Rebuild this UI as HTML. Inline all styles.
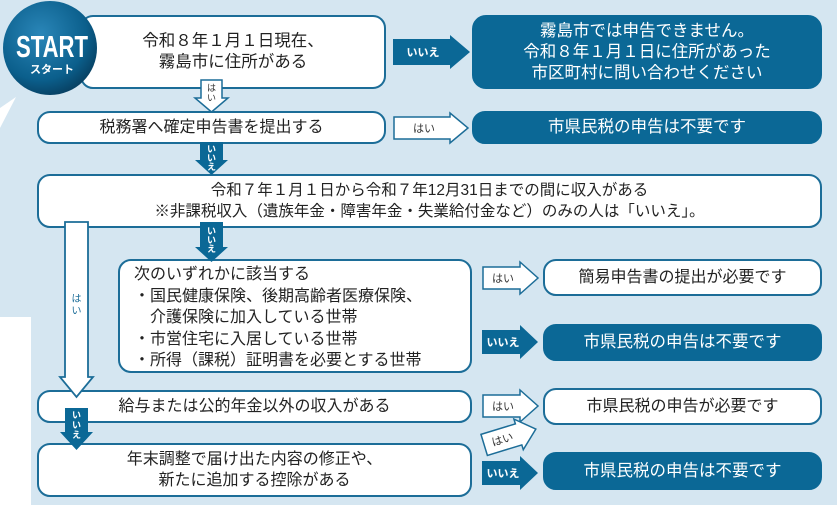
<!DOCTYPE html>
<html><head><meta charset="utf-8"><style>
body{margin:0;width:837px;height:505px;overflow:hidden;background:#d5e6f1;font-family:"Liberation Sans","Noto Sans CJK JP",sans-serif;position:relative}
.b{position:absolute;box-sizing:border-box;border:2.5px solid #1c6d98;background:#fff;border-radius:13px;color:#222;font-size:16px;display:flex;align-items:center;justify-content:center;text-align:center;line-height:21px}
.d{background:#0b6896;border-color:#0b6896;color:#fff;font-size:16.5px}
svg{position:absolute;left:0;top:0}
</style></head><body>
<div style="position:absolute;left:0;top:317px;width:31px;height:188px;background:#fff"></div>
<svg width="837" height="505">
<defs><radialGradient id="g" cx="40%" cy="35%" r="70%"><stop offset="0" stop-color="#2a86b8"/><stop offset="0.7" stop-color="#0b5f8c"/><stop offset="1" stop-color="#073d5e"/></radialGradient></defs>
<polygon points="0,128 16,97 0,108" fill="#fff"/>
</svg>
<div class="b" style="left:80px;top:15px;width:306px;height:74px;font-size:16.5px">令和８年１月１日現在、<br>霧島市に住所がある</div>
<div class="b d" style="left:472px;top:15px;width:350px;height:74px;border-radius:14px">霧島市では申告できません。<br>令和８年１月１日に住所があった<br>市区町村に問い合わせください</div>
<div class="b" style="left:37px;top:111px;width:349px;height:33px">税務署へ確定申告書を提出する</div>
<div class="b d" style="left:472px;top:111px;width:350px;height:33px">市県民税の申告は不要です</div>
<div class="b" style="left:37px;top:174px;width:785px;height:54px;font-size:15.5px">令和７年１月１日から令和７年12月31日までの間に収入がある<br>※非課税収入（遺族年金・障害年金・失業給付金など）のみの人は「いいえ」。</div>
<div class="b" style="left:118px;top:259px;width:354px;height:114px;justify-content:flex-start;text-align:left;padding-left:14px;padding-top:4px;line-height:21.5px">次のいずれかに該当する<br>・国民健康保険、後期高齢者医療保険、<br>　介護保険に加入している世帯<br>・市営住宅に入居している世帯<br>・所得（課税）証明書を必要とする世帯</div>
<div class="b" style="left:543px;top:259px;width:279px;height:37px">簡易申告書の提出が必要です</div>
<div class="b d" style="left:543px;top:324px;width:279px;height:37px">市県民税の申告は不要です</div>
<div class="b" style="left:37px;top:390px;width:435px;height:33px">給与または公的年金以外の収入がある</div>
<div class="b" style="left:543px;top:388px;width:279px;height:37px">市県民税の申告が必要です</div>
<div class="b" style="left:37px;top:443px;width:435px;height:54px">年末調整で届け出た内容の修正や、<br>新たに追加する控除がある</div>
<div class="b d" style="left:543px;top:452px;width:279px;height:38px">市県民税の申告は不要です</div>
<svg width="837" height="505" style="font-family:'Liberation Sans','Noto Sans CJK JP',sans-serif">
<circle cx="50" cy="48" r="47" fill="url(#g)"/>
<text x="52" y="57" fill="#fff" font-size="31" font-weight="bold" text-anchor="middle" textLength="72" lengthAdjust="spacingAndGlyphs">START</text>
<text x="52" y="73" fill="#fff" font-size="11" font-weight="bold" text-anchor="middle">スタート</text>
<polygon points="393,39 450,39 450,35 470,52 450,69 450,65 393,65" fill="#0b6896"/>
<text x="423" y="56" fill="#fff" font-size="11" font-weight="bold" text-anchor="middle">いいえ</text>
<polygon points="394,117 450,117 450,113 468,128 450,143 450,139 394,139" fill="#fff" stroke="#1c6d98" stroke-width="1.5"/>
<text x="424" y="132" fill="#333" font-size="11" text-anchor="middle">はい</text>
<polygon points="483,267 520,267 520,262 538,278 520,294 520,289 483,289" fill="#fff" stroke="#1c6d98" stroke-width="1.5"/>
<text x="503" y="282" fill="#333" font-size="11" text-anchor="middle">はい</text>
<polygon points="482,330 520,330 520,325 538,342 520,359 520,354 482,354" fill="#0b6896"/>
<text x="503" y="346" fill="#fff" font-size="11" font-weight="bold" text-anchor="middle">いいえ</text>
<polygon points="483,395 520,395 520,390 538,406 520,422 520,417 483,417" fill="#fff" stroke="#1c6d98" stroke-width="1.5"/>
<text x="503" y="410" fill="#333" font-size="11" text-anchor="middle">はい</text>
<g transform="translate(510,437) rotate(-17)">
<polygon points="-27,-11 9,-11 9,-16 27,0 9,16 9,11 -27,11" fill="#fff" stroke="#1c6d98" stroke-width="1.5"/>
<text x="-8" y="4" fill="#333" font-size="11" text-anchor="middle">はい</text></g>
<polygon points="482,461 520,461 520,456 538,473 520,490 520,485 482,485" fill="#0b6896"/>
<text x="503" y="477" fill="#fff" font-size="11" font-weight="bold" text-anchor="middle">いいえ</text>
<polygon points="201,80 222,80 222,98 228,98 211.5,112 195,98 201,98" fill="#fff" stroke="#1c6d98" stroke-width="1.5"/>
<text x="211.5" y="91" fill="#333" font-size="9" text-anchor="middle">は</text>
<text x="211.5" y="101" fill="#333" font-size="9" text-anchor="middle">い</text>
<polygon points="200,142 223,142 223,160 228,160 211.5,175 195,160 200,160" fill="#0b6896"/>
<text x="211.5" y="152" fill="#fff" font-size="9" font-weight="bold" text-anchor="middle">い</text>
<text x="211.5" y="161" fill="#fff" font-size="9" font-weight="bold" text-anchor="middle">い</text>
<text x="211.5" y="170" fill="#fff" font-size="9" font-weight="bold" text-anchor="middle">え</text>
<polygon points="200,222 223,222 223,247 228,247 211.5,262 195,247 200,247" fill="#0b6896"/>
<text x="211.5" y="234" fill="#fff" font-size="9" font-weight="bold" text-anchor="middle">い</text>
<text x="211.5" y="243" fill="#fff" font-size="9" font-weight="bold" text-anchor="middle">い</text>
<text x="211.5" y="252" fill="#fff" font-size="9" font-weight="bold" text-anchor="middle">え</text>
<polygon points="65,222 88,222 88,377 93,377 76.5,397 60,377 65,377" fill="#fff" stroke="#1c6d98" stroke-width="1.8"/>
<text x="76.5" y="302" fill="#1c6d98" font-size="10" text-anchor="middle">は</text>
<text x="76.5" y="314" fill="#1c6d98" font-size="10" text-anchor="middle">い</text>
<polygon points="65,408 88,408 88,432 93,432 76.5,450 60,432 65,432" fill="#0b6896"/>
<text x="76.5" y="418" fill="#fff" font-size="9" font-weight="bold" text-anchor="middle">い</text>
<text x="76.5" y="428" fill="#fff" font-size="9" font-weight="bold" text-anchor="middle">い</text>
<text x="76.5" y="438" fill="#fff" font-size="9" font-weight="bold" text-anchor="middle">え</text>
</svg>
</body></html>
